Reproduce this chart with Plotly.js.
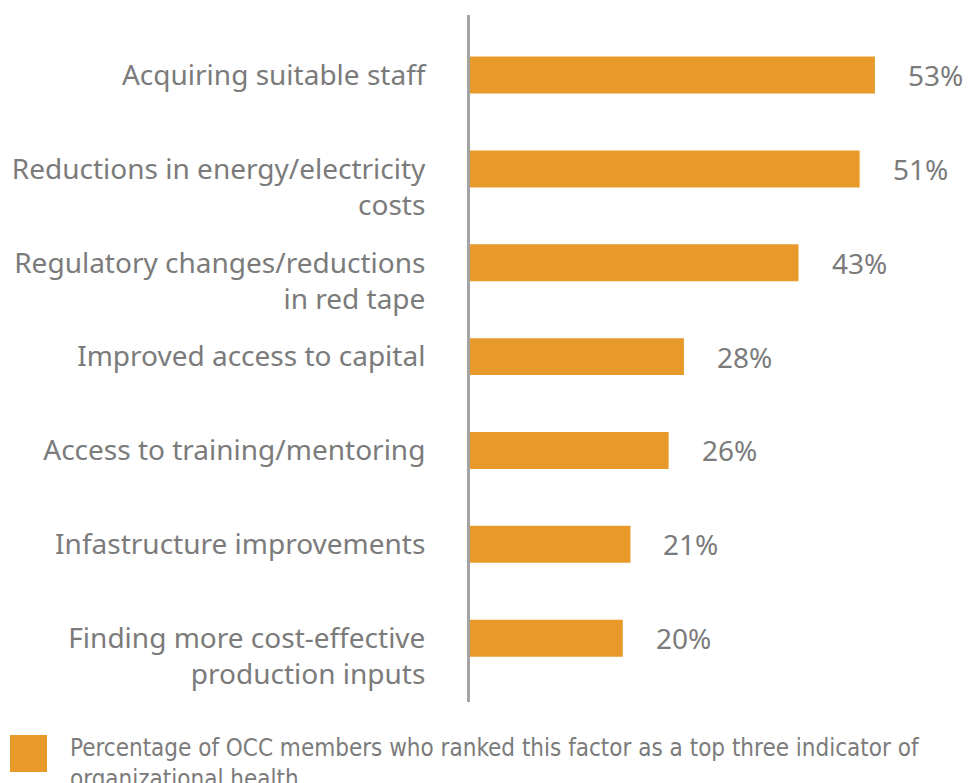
<!DOCTYPE html>
<html>
<head>
<meta charset="utf-8">
<script src="https://cdn.plot.ly/plotly-3.0.1.min.js"></script>
<style>html,body{margin:0;padding:0;background:#fff;}#chart{width:977px;height:783px;}</style>
</head>
<body>
<div id="chart"></div>
<script>
const categories = [
  "Acquiring suitable staff",
  "Reductions in energy/electricity<br>costs",
  "Regulatory changes/reductions<br>in red tape",
  "Improved access to capital",
  "Access to training/mentoring",
  "Infastructure improvements",
  "Finding more cost-effective<br>production inputs"
];
const values = [53, 51, 43, 28, 26, 21, 20];
const valueLabels = ["53%", "51%", "43%", "28%", "26%", "21%", "20%"];
const seriesName = "Percentage of OCC members who ranked this factor as a top three indicator of<br>organizational health";

const barColor = "#E7992A";
const textColor = "#7b7b7b";
const mainFont = "'Noto Sans', 'Open Sans', sans-serif";

// multi-line labels get a leading blank line so the first line aligns with the bar centre
const ids = categories.map((c, i) => "c" + i);
const tickText = categories.map(c => c.includes("<br>") ? "&nbsp;<br>" + c : c);

const trace = {
  type: "bar",
  orientation: "h",
  y: ids,
  x: values,
  width: 0.394,
  marker: {color: barColor},
  name: seriesName,
  hoverinfo: "skip",
  showlegend: false
};

const annotations = values.map((v, i) => ({
  x: v, y: ids[i], xref: "x", yref: "y",
  text: valueLabels[i], showarrow: false,
  xanchor: "left", yanchor: "middle", xshift: 31,
  font: {family: mainFont, size: 28, color: textColor}
}));

annotations.push({
  xref: "paper", yref: "paper", x: -0.793, y: -0.043,
  xanchor: "left", yanchor: "top", align: "left",
  text: seriesName, showarrow: false,
  font: {family: "'Liberation Sans Narrow', 'DejaVu Sans Condensed', sans-serif", size: 24, color: textColor}
});

const layout = {
  width: 977, height: 783,
  margin: {l: 470, r: 0, t: 15, b: 81},
  paper_bgcolor: "#fff", plot_bgcolor: "#fff",
  xaxis: {range: [0, 66.36], visible: false, fixedrange: true},
  yaxis: {
    type: "category",
    categoryorder: "array", categoryarray: ids,
    range: [6.68, -0.64],
    tickmode: "array", tickvals: ids, ticktext: tickText,
    showline: true, linecolor: "#a3a3a3", linewidth: 3,
    showgrid: false, zeroline: false,
    ticks: "outside", ticklen: 36, tickcolor: "rgba(0,0,0,0)",
    tickfont: {family: mainFont, size: 28, color: textColor}
  },
  shapes: [{
    type: "rect", xref: "paper", yref: "paper",
    x0: -0.9073, x1: -0.8343, y0: -0.048, y1: -0.1019,
    fillcolor: barColor, line: {width: 0}
  }],
  annotations: annotations,
  showlegend: false
};

Plotly.newPlot("chart", [trace], layout, {displayModeBar: false, staticPlot: true});
</script>
</body>
</html>
